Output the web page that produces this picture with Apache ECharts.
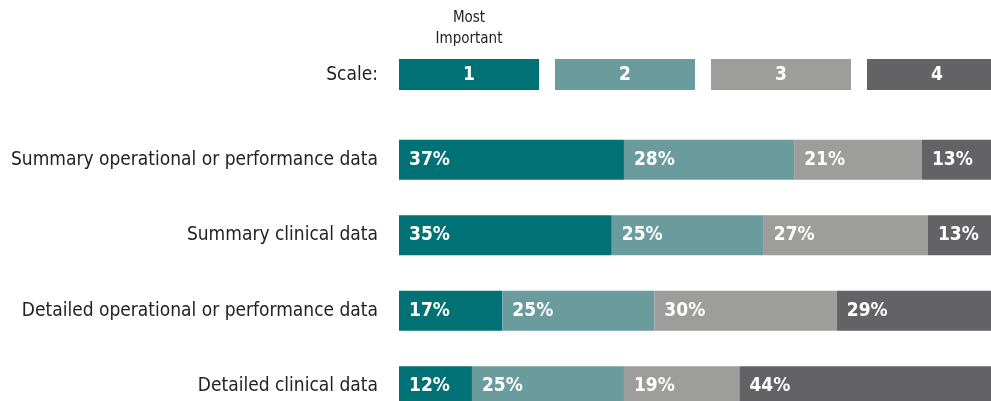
<!DOCTYPE html>
<html>
<head>
<meta charset="utf-8">
<script src="https://cdn.jsdelivr.net/npm/echarts@6/dist/echarts.min.js"></script>
<style>
  html, body { margin: 0; padding: 0; background: #fff; }
  #chart { width: 991px; height: 401px; }
</style>
</head>
<body>
<div id="chart"></div>
<script>
var categories = [
    'Summary operational or performance data',
    'Summary clinical data',
    'Detailed operational or performance data',
    'Detailed clinical data'
];
var scaleNames = ['1', '2', '3', '4'];
var scale1 = [37, 35, 17, 12];
var scale2 = [28, 25, 25, 25];
var scale3 = [21, 27, 30, 19];
var scale4 = [13, 13, 29, 44];

var colors = ['#007174', '#6a9c9e', '#9d9d9b', '#636365'];
var FONT = '"DejaVu Sans Condensed", "Liberation Sans Narrow", sans-serif';

var chart = echarts.init(document.getElementById('chart'), null, { renderer: 'canvas' });

function makeSeries(name, data, idx) {
    return {
        name: name,
        type: 'bar',
        stack: 'all',
        barWidth: 40,
        data: data,
        itemStyle: { color: colors[idx] },
        label: {
            show: true,
            position: 'insideLeft',
            distance: 10,
            formatter: '{c}%',
            color: '#fff',
            fontFamily: FONT,
            fontWeight: 'bold',
            fontSize: 19
        },
        silent: true
    };
}

//图例: 手动画的方块
var legendItems = [];
scaleNames.forEach(function (n, i) {
    legendItems.push({
        type: 'rect',
        left: 399 + i * 156,
        top: 59,
        shape: { width: 140, height: 31 },
        style: { fill: colors[i] }
    });
    legendItems.push({
        type: 'text',
        x: 399 + i * 156 + 70,
        y: 75,
        style: {
            text: n,
            fill: '#fff',
            font: 'bold 19px ' + FONT,
            align: 'center',
            verticalAlign: 'middle'
        }
    });
});
legendItems.push({
    type: 'text',
    x: 378,
    y: 75,
    style: { text: 'Scale:', fill: '#222', font: '19px ' + FONT, align: 'right', verticalAlign: 'middle' }
});
legendItems.push({
    type: 'text',
    x: 469,
    y: 29,
    style: { text: 'Most\nImportant', fill: '#222', font: '15px ' + FONT, align: 'center', verticalAlign: 'middle', lineHeight: 21 }
});

chart.setOption({
    animation: false,
    grid: { left: 399, top: 122, width: 608, height: 302, outerBoundsMode: 'none', containLabel: false },
    xAxis: { type: 'value', min: 0, max: 100, show: false },
    yAxis: {
        type: 'category',
        data: categories,
        inverse: true,
        axisLine: { show: false },
        axisTick: { show: false },
        axisLabel: { margin: 21, color: '#222', fontFamily: FONT, fontSize: 19 }
    },
    series: [
        makeSeries(scaleNames[0], scale1, 0),
        makeSeries(scaleNames[1], scale2, 1),
        makeSeries(scaleNames[2], scale3, 2),
        makeSeries(scaleNames[3], scale4, 3)
    ],
    graphic: legendItems
});
</script>
</body>
</html>
